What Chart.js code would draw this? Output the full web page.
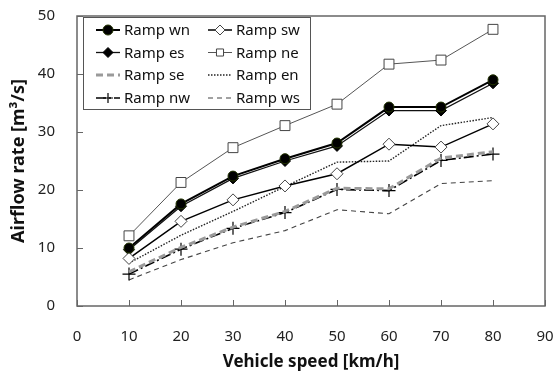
<!DOCTYPE html>
<html>
<head>
<meta charset="utf-8">
<script src="https://cdn.jsdelivr.net/npm/chart.js@4"></script>
<style>
  html, body { margin: 0; padding: 0; background: #fff; }
  #wrap { width: 555px; height: 375px; position: relative; }
</style>
</head>
<body>
<div id="wrap"><canvas id="lineChart"></canvas></div>
<script>
// vehicle speed [km/h]
const speeds = [10, 20, 30, 40, 50, 60, 70, 80];

// airflow rate [m3/s] per ramp
const rampWn = [10.0, 17.6, 22.4, 25.4, 28.1, 34.3, 34.3, 39.0];
const rampSw = [8.2, 14.6, 18.3, 20.7, 22.8, 27.9, 27.4, 31.4];
const rampEs = [9.7, 17.2, 22.0, 25.0, 27.6, 33.7, 33.7, 38.4];
const rampNe = [12.1, 21.3, 27.3, 31.1, 34.8, 41.7, 42.4, 47.7];
const rampSe = [5.9, 10.1, 13.6, 16.3, 20.3, 20.2, 25.5, 26.6];
const rampEn = [7.4, 12.2, 16.3, 20.6, 24.8, 25.0, 31.1, 32.5];
const rampNw = [5.5, 9.8, 13.4, 16.1, 20.1, 19.9, 25.1, 26.2];
const rampWs = [4.5, 8.0, 10.9, 13.0, 16.6, 15.9, 21.1, 21.6];

const FONT = "'Noto Sans', 'DejaVu Sans', sans-serif";

const pts = (vals) => vals.map((v, i) => ({ x: speeds[i], y: v }));

// same order as the legend (row by row)
const datasets = [
    { label: 'Ramp wn', data: pts(rampWn), borderColor: '#000', borderWidth: 2,
      pointStyle: 'circle', pointRadius: 5, pointBackgroundColor: '#000', pointBorderColor: '#223300', pointBorderWidth: 1 },
    { label: 'Ramp sw', data: pts(rampSw), borderColor: '#000', borderWidth: 1.5,
      pointStyle: 'rectRot', pointRadius: 6, pointBackgroundColor: '#fff', pointBorderColor: '#444', pointBorderWidth: 1 },
    { label: 'Ramp es', data: pts(rampEs), borderColor: '#111', borderWidth: 1.3,
      pointStyle: 'rectRot', pointRadius: 5.5, pointBackgroundColor: '#000', pointBorderColor: '#000', pointBorderWidth: 1 },
    { label: 'Ramp ne', data: pts(rampNe), borderColor: '#555', borderWidth: 1,
      pointStyle: 'rect', pointRadius: 7, pointBackgroundColor: '#fff', pointBorderColor: '#444', pointBorderWidth: 1 },
    { label: 'Ramp se', data: pts(rampSe), borderColor: '#9a9a9a', borderWidth: 3, borderDash: [7, 4],
      pointRadius: 0 },
    { label: 'Ramp en', data: pts(rampEn), borderColor: '#222', borderWidth: 1.4, borderDash: [1.5, 1.5],
      pointRadius: 0 },
    { label: 'Ramp nw', data: pts(rampNw), borderColor: '#000', borderWidth: 1.6, borderDash: [10, 3, 2, 3],
      pointStyle: 'cross', pointRadius: 6.5, pointBorderColor: '#000', pointBorderWidth: 1.2 },
    { label: 'Ramp ws', data: pts(rampWs), borderColor: '#444', borderWidth: 1.1, borderDash: [5, 4],
      pointRadius: 0 },
];

// draws a marker the same way chart.js does for the styles used here
function marker(ctx, ds, x, y) {
    if (!ds.pointRadius) return;
    const r = ds.pointRadius;
    ctx.save();
    ctx.setLineDash([]);
    ctx.fillStyle = ds.pointBackgroundColor || '#000';
    ctx.strokeStyle = ds.pointBorderColor || '#000';
    ctx.lineWidth = ds.pointBorderWidth || 1;
    ctx.beginPath();
    if (ds.pointStyle === 'circle') {
        ctx.arc(x, y, r, 0, Math.PI * 2);
        ctx.fill(); ctx.stroke();
    } else if (ds.pointStyle === 'rectRot') {
        const s = r;
        ctx.moveTo(x, y - s); ctx.lineTo(x + s, y); ctx.lineTo(x, y + s); ctx.lineTo(x - s, y); ctx.closePath();
        ctx.fill(); ctx.stroke();
    } else if (ds.pointStyle === 'rect') {
        const s = Math.SQRT1_2 * r;
        ctx.rect(x - s, y - s, 2 * s, 2 * s);
        ctx.fill(); ctx.stroke();
    } else if (ds.pointStyle === 'cross') {
        ctx.moveTo(x, y - r); ctx.lineTo(x, y + r);
        ctx.moveTo(x - r, y); ctx.lineTo(x + r, y);
        ctx.stroke();
    }
    ctx.restore();
}

// plot frame + inward tick marks
const frame = {
    id: 'frame',
    beforeDatasetsDraw(chart) {
        const { ctx, chartArea: a, scales: { x, y } } = chart;
        ctx.save();
        ctx.strokeStyle = '#666';
        ctx.lineWidth = 1.5;
        ctx.strokeRect(a.left, a.top, a.right - a.left, a.bottom - a.top);
        ctx.lineWidth = 1;
        ctx.beginPath();
        x.ticks.forEach((t, i) => {
            const px = Math.round(x.getPixelForTick(i)) + 0.5;
            ctx.moveTo(px, a.bottom); ctx.lineTo(px, a.bottom - 6);
        });
        y.ticks.forEach((t, i) => {
            const py = Math.round(y.getPixelForTick(i)) + 0.5;
            ctx.moveTo(a.left, py); ctx.lineTo(a.left + 6, py);
        });
        ctx.stroke();
        ctx.restore();
    }
};

// two-column boxed legend in the top left corner
const boxLegend = {
    id: 'boxLegend',
    afterDraw(chart) {
        const { ctx, chartArea: a } = chart;
        const left = a.left + 6, top = a.top + 1, w = 227, h = 92;
        ctx.save();
        ctx.fillStyle = '#fff';
        ctx.fillRect(left, top, w, h);
        ctx.strokeStyle = '#555';
        ctx.lineWidth = 1;
        ctx.strokeRect(left + 0.5, top + 0.5, w, h);
        const rowY = [13, 35.5, 58, 81].map(d => top + d);
        const colX = [left + 13, left + 125];
        chart.data.datasets.forEach((ds, i) => {
            const cx = colX[i % 2], cy = rowY[Math.floor(i / 2)];
            ctx.save();
            ctx.strokeStyle = ds.borderColor;
            ctx.lineWidth = ds.borderWidth;
            ctx.setLineDash(ds.borderDash || []);
            ctx.beginPath();
            ctx.moveTo(cx, cy); ctx.lineTo(cx + 24, cy);
            ctx.stroke();
            ctx.restore();
            marker(ctx, Object.assign({}, ds, { pointRadius: ds.pointRadius ? Math.min(ds.pointRadius, 5) : 0 }), cx + 12, cy);
            ctx.fillStyle = '#111';
            ctx.font = '15px ' + FONT;
            ctx.textBaseline = 'middle';
            ctx.fillText(ds.label, cx + 28, cy + 1);
        });
        ctx.restore();
    }
};

const myChart = new Chart(document.getElementById('lineChart'), {
    type: 'line',
    data: { datasets: datasets },
    options: {
        responsive: true,
        maintainAspectRatio: false,
        animation: false,
        devicePixelRatio: 1,
        layout: { padding: { top: 16, right: 10, left: 0, bottom: 0 } },
        elements: { line: { tension: 0, fill: false } },
        plugins: { legend: { display: false }, tooltip: { enabled: false } },
        scales: {
            x: {
                type: 'linear', min: 0, max: 90,
                ticks: { stepSize: 10, padding: 22, color: '#222', font: { family: FONT, size: 15 } },
                grid: { display: false, drawTicks: false },
                border: { display: false },
                title: { display: true, text: 'Vehicle speed [km/h]', color: '#111',
                         font: { family: FONT, size: 17, weight: 'bold' }, padding: { top: 0, bottom: 3 } },
                afterFit: (s) => { s.height = 69; s.paddingLeft = 0; s.paddingRight = 0; }
            },
            y: {
                min: 0, max: 50,
                ticks: { stepSize: 10, padding: 22, color: '#222', font: { family: FONT, size: 15 } },
                grid: { display: false, drawTicks: false },
                border: { display: false },
                title: { display: true, text: 'Airflow rate [m³/s]', color: '#111',
                         font: { family: FONT, size: 18, weight: 'bold' }, padding: { top: 8, bottom: 0 } },
                afterFit: (s) => { s.width = 77; s.paddingTop = 0; s.paddingBottom = 0; }
            }
        }
    },
    plugins: [frame, boxLegend]
});
</script>
</body>
</html>
